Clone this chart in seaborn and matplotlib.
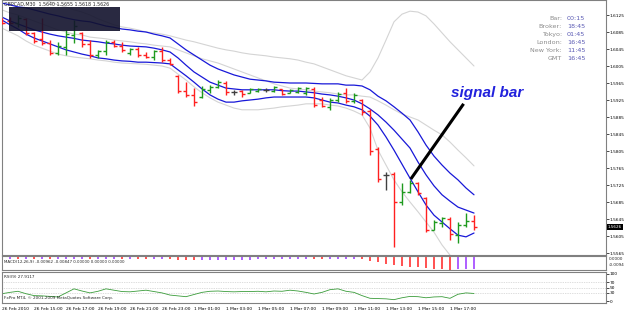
import numpy as np
import matplotlib
matplotlib.use("Agg")
import matplotlib.pyplot as plt
import matplotlib.transforms as mtrans
from matplotlib.patches import Rectangle
import seaborn as sns

# GBPCAD M30, 26 Feb 2010 13:00 -> 1 Mar 2010 18:30 (60 bars)
opens = [1.6115, 1.6112, 1.6106, 1.6116, 1.6083, 1.6068, 1.6058, 1.6036, 1.6050, 1.6078,
         1.6082, 1.6056, 1.6030, 1.6040, 1.6062, 1.6052, 1.6036, 1.6045, 1.6032, 1.6026,
         1.6040, 1.6018, 1.5982, 1.5946, 1.5936, 1.5932, 1.5948, 1.5956, 1.5966, 1.5944,
         1.5946, 1.5942, 1.5946, 1.5949, 1.5947, 1.5950, 1.5942, 1.5944, 1.5942, 1.5952,
         1.5926, 1.5908, 1.5926, 1.5942, 1.5922, 1.5924, 1.5898, 1.5810, 1.5749, 1.5750,
         1.5685, 1.5708, 1.5730, 1.5694, 1.5620, 1.5636, 1.5646, 1.5608, 1.5630, 1.5640]
highs = [1.6118, 1.6120, 1.6125, 1.6118, 1.6085, 1.6118, 1.6066, 1.6061, 1.6090, 1.6113,
         1.6085, 1.6066, 1.6043, 1.6066, 1.6066, 1.6061, 1.6047, 1.6050, 1.6038, 1.6043,
         1.6050, 1.6024, 1.5984, 1.5967, 1.5953, 1.5958, 1.5960, 1.5972, 1.5970, 1.5949,
         1.5949, 1.5953, 1.5953, 1.5953, 1.5958, 1.5951, 1.5951, 1.5956, 1.5956, 1.5956,
         1.5932, 1.5930, 1.5944, 1.5953, 1.5941, 1.5927, 1.5904, 1.5814, 1.5756, 1.5756,
         1.5730, 1.5737, 1.5732, 1.5697, 1.5643, 1.5650, 1.5650, 1.5638, 1.5659, 1.5655]
lows = [1.6104, 1.6104, 1.6097, 1.6078, 1.6059, 1.6054, 1.6031, 1.6031, 1.6031, 1.6059,
        1.6050, 1.6024, 1.6024, 1.6031, 1.6050, 1.6038, 1.6031, 1.6026, 1.6024, 1.6019,
        1.6014, 1.6007, 1.5941, 1.5932, 1.5911, 1.5930, 1.5941, 1.5953, 1.5937, 1.5937,
        1.5932, 1.5941, 1.5944, 1.5944, 1.5944, 1.5937, 1.5941, 1.5941, 1.5937, 1.5909,
        1.5909, 1.5901, 1.5920, 1.5918, 1.5918, 1.5890, 1.5796, 1.5732, 1.5713, 1.5579,
        1.5678, 1.5706, 1.5701, 1.5615, 1.5618, 1.5626, 1.5596, 1.5589, 1.5626, 1.5618]
closes = [1.6106, 1.6106, 1.6118, 1.6083, 1.6064, 1.6058, 1.6036, 1.6052, 1.6080, 1.6100,
          1.6056, 1.6030, 1.6040, 1.6062, 1.6052, 1.6042, 1.6045, 1.6030, 1.6026, 1.6040,
          1.6018, 1.6010, 1.5946, 1.5936, 1.5920, 1.5952, 1.5956, 1.5968, 1.5944, 1.5944,
          1.5938, 1.5950, 1.5951, 1.5949, 1.5955, 1.5940, 1.5949, 1.5953, 1.5954, 1.5914,
          1.5912, 1.5926, 1.5940, 1.5922, 1.5936, 1.5896, 1.5806, 1.5740, 1.5749, 1.5686,
          1.5708, 1.5730, 1.5706, 1.5618, 1.5638, 1.5648, 1.5610, 1.5632, 1.5641, 1.5626]

# blue envelope (upper / middle / lower)
env_up = [1.6153, 1.6149, 1.6144, 1.6142, 1.6137, 1.6132, 1.6127, 1.6123, 1.6118, 1.6114,
          1.6111, 1.6109, 1.6104, 1.6099, 1.6096, 1.6092, 1.6090, 1.6087, 1.6085, 1.6080,
          1.6076, 1.6071, 1.6057, 1.6043, 1.6031, 1.6019, 1.6007, 1.5998, 1.5991, 1.5984,
          1.5979, 1.5974, 1.5972, 1.5970, 1.5967, 1.5966, 1.5965, 1.5965, 1.5965, 1.5964,
          1.5963, 1.5963, 1.5963, 1.5960, 1.5960, 1.5958, 1.5949, 1.5934, 1.5923, 1.5909,
          1.5894, 1.5878, 1.5850, 1.5819, 1.5793, 1.5772, 1.5753, 1.5737, 1.5718, 1.5702]
env_mid = [1.6120, 1.6111, 1.6104, 1.6097, 1.6090, 1.6085, 1.6080, 1.6076, 1.6073, 1.6070,
           1.6066, 1.6064, 1.6062, 1.6059, 1.6057, 1.6054, 1.6052, 1.6051, 1.6050, 1.6047,
           1.6043, 1.6038, 1.6024, 1.6007, 1.5991, 1.5979, 1.5967, 1.5960, 1.5953, 1.5951,
           1.5949, 1.5949, 1.5949, 1.5949, 1.5949, 1.5947, 1.5946, 1.5946, 1.5944, 1.5942,
           1.5939, 1.5937, 1.5934, 1.5930, 1.5925, 1.5916, 1.5904, 1.5890, 1.5873, 1.5854,
           1.5833, 1.5812, 1.5779, 1.5749, 1.5723, 1.5702, 1.5687, 1.5673, 1.5666, 1.5659]
env_low = [1.6113, 1.6102, 1.6092, 1.6080, 1.6071, 1.6064, 1.6057, 1.6050, 1.6043, 1.6038,
           1.6033, 1.6029, 1.6024, 1.6022, 1.6019, 1.6017, 1.6016, 1.6014, 1.6014, 1.6013,
           1.6012, 1.6010, 1.5996, 1.5982, 1.5967, 1.5951, 1.5937, 1.5927, 1.5920, 1.5920,
           1.5923, 1.5925, 1.5927, 1.5930, 1.5932, 1.5932, 1.5932, 1.5932, 1.5932, 1.5930,
           1.5925, 1.5920, 1.5918, 1.5913, 1.5909, 1.5902, 1.5887, 1.5866, 1.5838, 1.5807,
           1.5774, 1.5741, 1.5709, 1.5678, 1.5654, 1.5638, 1.5622, 1.5607, 1.5603, 1.5612]

# light grey bands
bb_up = [1.6219, 1.6207, 1.6196, 1.6184, 1.6172, 1.6163, 1.6156, 1.6149, 1.6144, 1.6137,
         1.6132, 1.6125, 1.6116, 1.6109, 1.6102, 1.6097, 1.6094, 1.6090, 1.6085, 1.6083,
         1.6080, 1.6076, 1.6071, 1.6066, 1.6062, 1.6057, 1.6052, 1.6047, 1.6043, 1.6040,
         1.6036, 1.6033, 1.6031, 1.6029, 1.6026, 1.6024, 1.6022, 1.6019, 1.6014, 1.6010,
         1.6003, 1.5996, 1.5989, 1.5982, 1.5977, 1.5972, 1.5991, 1.6024, 1.6066, 1.6109,
         1.6127, 1.6134, 1.6132, 1.6123, 1.6104, 1.6083, 1.6062, 1.6043, 1.6024, 1.6005]
bb_mid = [1.6137, 1.6130, 1.6125, 1.6118, 1.6111, 1.6104, 1.6097, 1.6090, 1.6085, 1.6080,
          1.6078, 1.6073, 1.6071, 1.6069, 1.6066, 1.6064, 1.6062, 1.6059, 1.6057, 1.6054,
          1.6052, 1.6050, 1.6043, 1.6036, 1.6029, 1.6022, 1.6017, 1.6012, 1.6005, 1.5998,
          1.5991, 1.5984, 1.5977, 1.5970, 1.5963, 1.5958, 1.5953, 1.5951, 1.5949, 1.5946,
          1.5944, 1.5942, 1.5939, 1.5937, 1.5937, 1.5934, 1.5932, 1.5923, 1.5913, 1.5902,
          1.5892, 1.5885, 1.5878, 1.5866, 1.5854, 1.5843, 1.5826, 1.5807, 1.5789, 1.5770]
bb_low = [1.6094, 1.6085, 1.6076, 1.6064, 1.6054, 1.6047, 1.6040, 1.6033, 1.6029, 1.6026,
          1.6024, 1.6022, 1.6019, 1.6017, 1.6014, 1.6012, 1.6011, 1.6010, 1.6009, 1.6007,
          1.6005, 1.6000, 1.5986, 1.5972, 1.5956, 1.5942, 1.5930, 1.5920, 1.5913, 1.5906,
          1.5902, 1.5902, 1.5902, 1.5904, 1.5906, 1.5909, 1.5911, 1.5913, 1.5916, 1.5916,
          1.5916, 1.5913, 1.5911, 1.5906, 1.5899, 1.5890, 1.5859, 1.5807, 1.5772, 1.5737,
          1.5709, 1.5685, 1.5662, 1.5638, 1.5614, 1.5584, 1.5560, 1.5542, 1.5525, 1.5511]

macd = [-0.0020, -0.0020, -0.0021, -0.0021, -0.0022, -0.0022, -0.0023, -0.0023, -0.0022, -0.0021,
        -0.0021, -0.0022, -0.0022, -0.0021, -0.0021, -0.0022, -0.0022, -0.0023, -0.0024, -0.0024,
        -0.0023, -0.0024, -0.0027, -0.0029, -0.0031, -0.0030, -0.0029, -0.0027, -0.0027, -0.0026,
        -0.0026, -0.0025, -0.0024, -0.0023, -0.0022, -0.0021, -0.0020, -0.0019, -0.0018, -0.0020,
        -0.0022, -0.0022, -0.0021, -0.0021, -0.0020, -0.0023, -0.0033, -0.0046, -0.0056, -0.0068,
        -0.0075, -0.0079, -0.0083, -0.0091, -0.0096, -0.0099, -0.0103, -0.0101, -0.0098, -0.0096]

rsi = [27, 32, 36, 27, 20, 19, 17, 15, 30, 45, 37, 30, 36, 45, 40, 35, 34, 37, 40, 35,
       30, 22, 19, 16, 24, 32, 36, 37, 35, 34, 35, 35, 36, 34, 37, 36, 40, 37, 32, 26,
       32, 42, 45, 36, 32, 20, 10, 9, 8, 5, 12, 17, 16, 12, 15, 16, 10, 25, 30, 27.9]

time_labels = ["26 Feb 2010", "26 Feb 15:00", "26 Feb 17:00", "26 Feb 19:00", "26 Feb 21:00",
               "26 Feb 23:00", "1 Mar 01:00", "1 Mar 03:00", "1 Mar 05:00", "1 Mar 07:00",
               "1 Mar 09:00", "1 Mar 11:00", "1 Mar 13:00", "1 Mar 15:00", "1 Mar 17:00"]
price_ticks = [1.5565, 1.5605, 1.5645, 1.5685, 1.5725, 1.5765, 1.5805, 1.5845,
               1.5885, 1.5925, 1.5965, 1.6005, 1.6045, 1.6085, 1.6125]
clock_names = ["Bar:", "Broker:", "Tokyo:", "London:", "New York:", "GMT"]
clock_times = ["00:15", "18:45", "01:45", "16:45", "11:45", "16:45"]

W, H = 625, 313
sns.set_theme(style="white")
plt.rcParams['font.family'] = ['DejaVu Sans']

fig = plt.figure(figsize=(W / 100, H / 100), dpi=100)
fig.patch.set_facecolor('white')


def rect(top, bottom):
    return [2 / W, 1 - bottom / H, 604 / W, (bottom - top) / H]


ax = fig.add_axes(rect(0, 255))
ax_macd = fig.add_axes(rect(256, 270))
ax_rsi = fig.add_axes(rect(272, 303))

bars = np.arange(len(opens))
o, h, l, c = map(np.array, (opens, highs, lows, closes))
cols = np.where(c > o, '#1e9a1e', np.where(c < o, '#ff2020', '#404040'))

# bands
for series in (bb_up, bb_mid, bb_low):
    sns.lineplot(x=bars, y=series, ax=ax, color='#d4d4d4', lw=0.8)
for series in (env_up, env_mid, env_low):
    sns.lineplot(x=bars, y=series, ax=ax, color='#1818d8', lw=0.9)

# OHLC bars
ax.vlines(bars, l, h, colors=cols, lw=1.0, zorder=3)
ax.hlines(o, bars - 0.35, bars, colors=cols, lw=1.0, zorder=3)
ax.hlines(c, bars, bars + 0.35, colors=cols, lw=1.0, zorder=3)

# signal bar pointer
ax.plot([51.1, 57.7], [1.5739, 1.5916], color='black', lw=2.2, solid_capstyle='butt', zorder=4)
ax.text(60.6, 1.5941, "signal bar", color='#2222dd', fontsize=11, fontweight='bold',
        fontstyle='italic', family=['Liberation Sans', 'DejaVu Sans'], ha='center', va='center')

ax.set_xlim(0, 75.5)
ax.set_ylim(1.55603, 1.61603)
ax.yaxis.tick_right()
ax.set_yticks(price_ticks)
ax.set_yticklabels([f"{v:.4f}" for v in price_ticks])
ax.set_xticks([])

# current price box
tr = mtrans.blended_transform_factory(ax.transAxes, ax.transData)
ax.text(1.003, closes[-1], f"{closes[-1]:.4f}", transform=tr, fontsize=3.0, color='white',
        va='center', ha='left', bbox=dict(boxstyle='square,pad=0.15', fc='black', ec='none'))

# MACD histogram
mcol = ['#ff2020' if i > 0 and macd[i] < macd[i - 1] else '#9933ff' for i in range(len(macd))]
ax_macd.vlines(bars, 0, macd, colors=mcol, lw=1.1)
ax_macd.set_xlim(0, 75.5)
ax_macd.set_ylim(-0.0105, 0.0002)
ax_macd.set_xticks([])
ax_macd.set_yticks([])
ax_macd.text(0.003, 0.55, "MACD(12,26,9) -0.00962 -0.00847 0.00000 0.00000 0.00000",
             transform=ax_macd.transAxes, fontsize=2.9, va='center', ha='left',
             bbox=dict(boxstyle='square,pad=0.1', fc='white', ec='none'))

# RSI
for lvl in (30, 50, 70):
    ax_rsi.axhline(lvl, color='#bdbdbd', lw=0.5, ls=(0, (1, 1.5)))
sns.lineplot(x=bars, y=rsi, ax=ax_rsi, color='#3a9c3a', lw=0.6)
ax_rsi.set_xlim(0, 75.5)
ax_rsi.set_ylim(-7.4, 107.4)
ax_rsi.yaxis.tick_right()
ax_rsi.set_yticks([0, 30, 50, 70, 100])
ax_rsi.set_xticks(bars[::4])
ax_rsi.set_xticklabels(time_labels)
for lbl in ax_rsi.get_xticklabels():
    lbl.set_ha('left')
ax_rsi.text(0.003, 0.83, "RSI(9) 27.9117", transform=ax_rsi.transAxes, fontsize=3.0, va='center')
ax_rsi.text(0.003, 0.17, "FxPro MT4, \u00a9 2001-2009 MetaQuotes Software Corp.",
            transform=ax_rsi.transAxes, fontsize=3.0, va='center')

for a in (ax, ax_macd, ax_rsi):
    for s in a.spines.values():
        s.set_color('#808080')
        s.set_linewidth(0.8)
    a.tick_params(axis='both', labelsize=3.1, length=2, width=0.5, pad=0.8, colors='black')
    a.set_facecolor('white')
ax_rsi.tick_params(axis='x', labelsize=3.2, length=1.5, pad=1.5)

fig.text(609 / W, 1 - 259 / H, "0.0000", fontsize=3.0, va='center')
fig.text(609 / W, 1 - 265 / H, "-0.0094", fontsize=3.0, va='center')

# header and the dark info box
fig.text(4 / W, 1 - 4 / H, "GBPCAD,M30  1.5640 1.5655 1.5618 1.5626", fontsize=3.4, va='center')
fig.add_artist(Rectangle((9 / W, 1 - 31 / H), 111 / W, 24 / H, transform=fig.transFigure,
                         facecolor='#12122c', edgecolor='none', alpha=0.9, zorder=10))

# clock panel
for k, (name, t) in enumerate(zip(clock_names, clock_times)):
    yy = 1 - (19 + 7.8 * k) / H
    fig.text(562 / W, yy, name, fontsize=4.6, color='#8c8c8c', ha='right', va='center')
    fig.text(567 / W, yy, t, fontsize=4.6, color='#5a5ab4', ha='left', va='center')

fig.savefig("out.png", dpi=100)
